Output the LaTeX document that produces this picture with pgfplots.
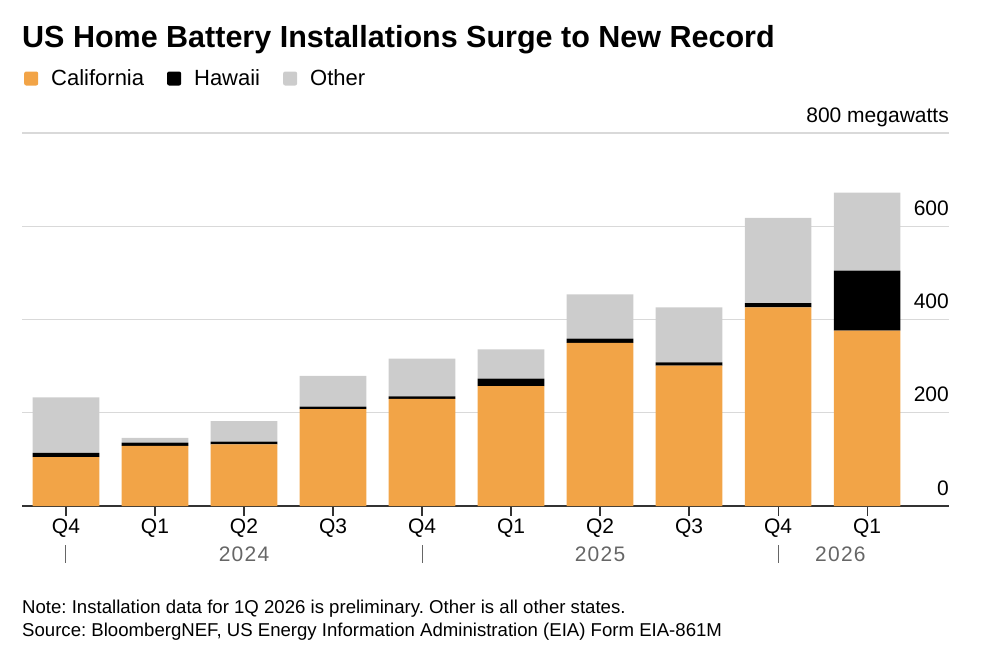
\documentclass[border=0pt]{standalone}
\usepackage{fontspec}
\setmainfont{Liberation Sans}
\usepackage{pgfplots}
\usepackage{pgfplotstable}
\pgfplotsset{compat=1.18}
\frenchspacing

\definecolor{caorange}{HTML}{F2A447}
\definecolor{higrey}{HTML}{000000}
\definecolor{othergrey}{HTML}{CCCCCC}
\definecolor{gridgrey}{HTML}{D9D9D9}
\definecolor{yeargrey}{HTML}{666666}
\definecolor{axisdark}{HTML}{333333}

% Quarterly home battery installations, megawatts
\pgfplotstableread{
idx ca  hi  other
0   105 9   119
1   129 7   10
2   132 6   44
3   208 5   66
4   230 5   81
5   257 16  63
6   350 9   95
7   301 7   118
8   426 9   183
9   376 129 167
}\installs

\newcommand{\yr}[1]{\addfontfeatures{LetterSpace=6}#1}

\begin{document}
\begin{tikzpicture}[x=1bp,y=1bp]
\path[use as bounding box] (0,0) rectangle (990,-661);

\node[anchor=base west, inner sep=0pt, font=\fontsize{30.5bp}{34bp}\selectfont\bfseries]
  at (22,-48) {US Home Battery Installations Surge to New Record};

\begin{axis}[
  at={(22bp,-506bp)}, anchor=south west,
  width=927bp, height=373bp, scale only axis,
  xmin=-0.494, xmax=9.92, ymin=0, ymax=800,
  ybar stacked, bar width=66.7bp,
  separate axis lines,
  axis x line*=bottom, axis y line*=right,
  x axis line style={-, draw=axisdark, line width=1.4bp},
  y axis line style={draw=none},
  ytick={0,200,400,600,800},
  yticklabels={0,200,400,600,800 megawatts},
  ymajorgrids, grid style={gridgrey, line width=1.2bp},
  ytick style={draw=none},
  yticklabel style={anchor=base east, inner sep=0pt, xshift=-10bp, yshift=11bp,
    font=\fontsize{21bp}{24bp}\selectfont},
  xtick={0,...,9},
  xticklabels={Q4,Q1,Q2,Q3,Q4,Q1,Q2,Q3,Q4,Q1},
  xtick style={draw=axisdark, line width=1.2bp},
  tick align=outside, major tick length=10bp,
  xticklabel style={anchor=base, inner sep=0pt, font=\fontsize{21bp}{24bp}\selectfont},
  every x tick label/.append style={yshift=-17bp},
  clip=false,
  legend columns=3,
  legend style={at={(axis description cs:0,1)}, anchor=west, xshift=2bp, yshift=55bp,
    draw=none, fill=none, inner sep=0pt, column sep=0bp,
    nodes={inner sep=0pt, font=\fontsize{22bp}{25bp}\selectfont}},
  /tikz/every odd column/.append style={column sep=13bp},
  /tikz/every even column/.append style={column sep=23bp},
  legend image code/.code={\fill[#1,draw=none,rounded corners=2bp] (0bp,-7.5bp) rectangle (14bp,6.5bp);},
]
\addplot[fill=caorange, draw=none] table[x=idx, y=ca] {\installs};
\addlegendentry{California}
\addplot[fill=higrey, draw=none] table[x=idx, y=hi] {\installs};
\addlegendentry{Hawaii}
\addplot[fill=othergrey, draw=none] table[x=idx, y=other] {\installs};
\addlegendentry{Other}

% year labels and separators below the quarter labels
\draw[yeargrey, line width=1bp] ([yshift=-39bp]axis cs:0,0) -- ([yshift=-57bp]axis cs:0,0);
\draw[yeargrey, line width=1bp] ([yshift=-39bp]axis cs:4,0) -- ([yshift=-57bp]axis cs:4,0);
\draw[yeargrey, line width=1bp] ([yshift=-39bp]axis cs:8,0) -- ([yshift=-57bp]axis cs:8,0);
\node[anchor=base, inner sep=0pt, text=yeargrey, font=\fontsize{21bp}{24bp}\selectfont]
  at ([yshift=-55bp]axis cs:2,0) {\yr{2024}};
\node[anchor=base, inner sep=0pt, text=yeargrey, font=\fontsize{21bp}{24bp}\selectfont]
  at ([yshift=-55bp]axis cs:6,0) {\yr{2025}};
\node[anchor=base, inner sep=0pt, text=yeargrey, font=\fontsize{21bp}{24bp}\selectfont]
  at ([yshift=-55bp]axis cs:8.7,0) {\yr{2026}};
\end{axis}

\node[anchor=base west, inner sep=0pt, font=\fontsize{18.6bp}{21bp}\selectfont]
  at (22,-613) {Note: Installation data for 1Q 2026 is preliminary. Other is all other states.};
\node[anchor=base west, inner sep=0pt, font=\fontsize{18.6bp}{21bp}\selectfont]
  at (22,-636) {Source: BloombergNEF, US Energy Information Administration (EIA) Form EIA-861M};
\end{tikzpicture}
\end{document}
